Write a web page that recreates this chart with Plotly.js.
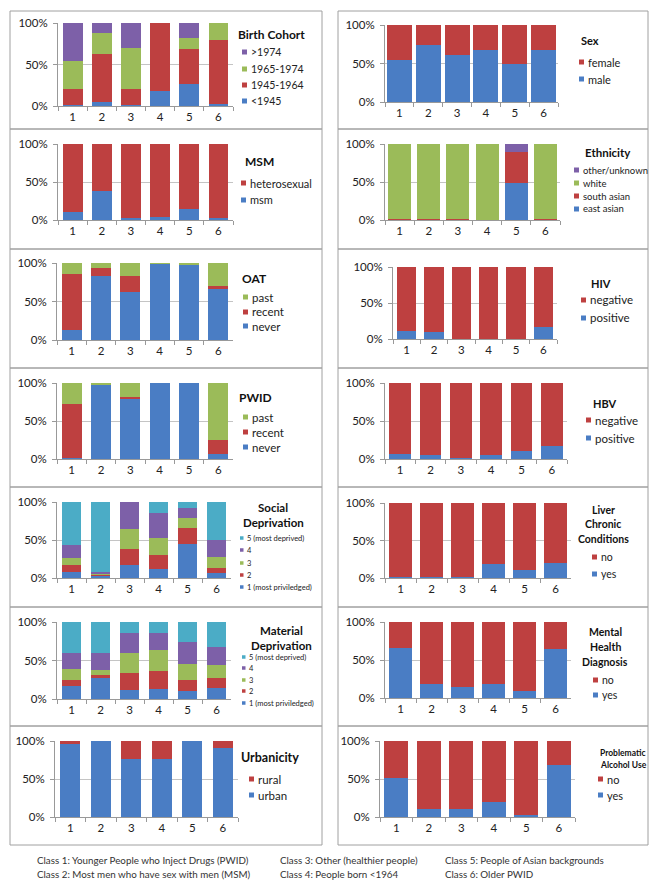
<!DOCTYPE html>
<html><head><meta charset="utf-8">
<script src="https://cdn.plot.ly/plotly-3.0.1.min.js"></script>
<style>html,body{margin:0;padding:0;background:#fff}#chart{width:654px;height:882px}</style>
</head><body><div id="chart"></div>
<script>
// ---------------- DATA ----------------
const classes = ['1', '2', '3', '4', '5', '6'];
const yTickValues = [0, 50, 100];
const yTickLabels = ['0%', '50%', '100%'];

const cohortLabels = ['<1945', '1945-1964', '1965-1974', '>1974'];
const cohortLt1945 = [1, 5, 1, 18, 27, 3];
const cohort1945to1964 = [20, 58, 19, 82, 42, 76];
const cohort1965to1974 = [33, 25, 50, 0, 13, 21];
const cohortGt1974 = [46, 12, 30, 0, 18, 0];

const msmLabels = ['msm', 'heterosexual'];
const msmMsm = [11, 38, 2, 3.5, 14, 3];
const msmHetero = [89, 62, 98, 96.5, 86, 97];

const sexLabels = ['male', 'female'];
const sexMale = [54, 74, 61, 67, 50, 68];
const sexFemale = [46, 26, 39, 33, 50, 32];

const ethLabels = ['east asian', 'south asian', 'white', 'other/unknown'];
const ethEastAsian = [0.5, 0.3, 0.5, 0.3, 49, 0.3];
const ethSouthAsian = [0.5, 0.5, 1, 0.3, 40, 0.5];
const ethWhite = [98.5, 98.7, 98, 99.2, 1, 99];
const ethOther = [0.5, 0.5, 0.5, 0.2, 10, 0.2];

const oatLabels = ['never', 'recent', 'past'];
const oatNever = [13, 83, 62, 99, 97, 66];
const oatRecent = [73, 10, 21, 0, 0, 4];
const oatPast = [14, 7, 17, 1, 3, 30];

const pwidLabels = ['never', 'recent', 'past'];
const pwidNever = [1, 98, 79, 100, 100, 7];
const pwidRecent = [71, 0, 3, 0, 0, 18];
const pwidPast = [28, 2, 18, 0, 0, 75];

const hivLabels = ['positive', 'negative'];
const hivPositive = [11, 10, 0.5, 0.5, 0.5, 17];
const hivNegative = [89, 90, 99.5, 99.5, 99.5, 83];

const hbvLabels = ['positive', 'negative'];
const hbvPositive = [7, 5, 1, 5, 10, 17];
const hbvNegative = [93, 95, 99, 95, 90, 83];

const depLabels = ['1 (most priviledged)', '2', '3', '4', '5 (most deprived)'];
const social1 = [8, 2, 17.5, 12, 45, 6];
const social2 = [9.5, 2, 20.5, 18, 21, 7];
const social3 = [8.5, 1, 27, 23, 13, 15];
const social4 = [17, 3, 35, 32, 13, 22];
const social5 = [57, 92, 0, 15, 8, 50];

const material1 = [16.5, 27, 12, 13, 11, 14];
const material2 = [8.5, 4, 22, 24, 14, 13];
const material3 = [14, 6.5, 26, 26, 20.5, 17];
const material4 = [21, 22.5, 26, 23, 28.5, 24];
const material5 = [40, 40, 14, 14, 26, 32];

const yesNoLabels = ['yes', 'no'];
const liverYes = [1, 1, 1, 18.5, 11, 20];
const liverNo = [99, 99, 99, 81.5, 89, 80];

const mentalYes = [66, 19, 15, 19, 9, 64];
const mentalNo = [34, 81, 85, 81, 91, 36];

const urbanLabels = ['urban', 'rural'];
const urbanUrban = [96, 100, 76, 76, 99.5, 91];
const urbanRural = [4, 0, 24, 24, 0.5, 9];

const alcoholYes = [51, 10, 10, 20, 2, 68];
const alcoholNo = [49, 90, 90, 80, 98, 32];

const footerLines = [
  ['Class 1: Younger People who Inject Drugs (PWID)', 'Class 3: Other (healthier people)', 'Class 5: People of Asian backgrounds'],
  ['Class 2: Most men who have sex with men (MSM)', 'Class 4: People born <1964', 'Class 6: Older PWID']
];

// ---------------- STYLE / LAYOUT ----------------
const W = 654, H = 882;
const BLUE = '#4A7DC4', RED = '#BE4040', GREEN = '#9BBB59', PURPLE = '#7D60A8', CYAN = '#4BACC6';
const FONT = 'Lato, "Open Sans", sans-serif';
const px = v => v / W;
const py = v => 1 - v / H;

const panels = [
  {title: ['Birth Cohort'], labels: cohortLabels, series: [cohortLt1945, cohort1945to1964, cohort1965to1974, cohortGt1974], colors: [BLUE, RED, GREEN, PURPLE],
   x: [58, 233], y: [23, 106], w: 0.68, tX: 271, tY: [35], tS: 12, iX: 242, iY: [52, 69, 85, 101], iS: 10.5},
  {title: ['MSM'], labels: msmLabels, series: [msmMsm, msmHetero], colors: [BLUE, RED],
   x: [58, 233], y: [144, 220], w: 0.68, tX: 259, tY: [161], tS: 12, iX: 241, iY: [183, 200], iS: 11},
  {title: ['OAT'], labels: oatLabels, series: [oatNever, oatRecent, oatPast], colors: [BLUE, RED, GREEN],
   x: [57, 233], y: [263, 340], w: 0.68, tX: 254, tY: [278], tS: 12, iX: 243, iY: [297, 312, 326], iS: 11.5},
  {title: ['PWID'], labels: pwidLabels, series: [pwidNever, pwidRecent, pwidPast], colors: [BLUE, RED, GREEN],
   x: [57, 233], y: [383, 459], w: 0.68, tX: 255, tY: [397], tS: 12, iX: 243, iY: [417, 432, 447], iS: 11.5},
  {title: ['Social', 'Deprivation'], labels: depLabels, series: [social1, social2, social3, social4, social5], colors: [BLUE, RED, GREEN, PURPLE, CYAN],
   x: [57, 231], y: [502, 578], w: 0.68, tX: 273, tY: [507, 522], tS: 11.5, iX: 240, iY: [538, 550, 563, 575, 587], iS: 7.5},
  {title: ['Material', 'Deprivation'], labels: depLabels, series: [material1, material2, material3, material4, material5], colors: [BLUE, RED, GREEN, PURPLE, CYAN],
   x: [57, 231], y: [622, 699], w: 0.68, tX: 281, tY: [630, 645], tS: 11.5, iX: 242, iY: [657, 668, 680, 691, 703], iS: 7.5},
  {title: ['Urbanicity'], labels: urbanLabels, series: [urbanUrban, urbanRural], colors: [BLUE, RED],
   x: [55, 238], y: [741, 817], w: 0.66, tX: 270, tY: [757], tS: 12.5, iX: 249, iY: [779, 795], iS: 11.5},
  {title: ['Sex'], labels: sexLabels, series: [sexMale, sexFemale], colors: [BLUE, RED],
   x: [385, 558], y: [25, 102], w: 0.87, tX: 590, tY: [40], tS: 11, iX: 579, iY: [62, 79], iS: 11},
  {title: ['Ethnicity'], labels: ethLabels, series: [ethEastAsian, ethSouthAsian, ethWhite, ethOther], colors: [BLUE, RED, GREEN, PURPLE],
   x: [385, 560], y: [144, 220], w: 0.79, tX: 608, tY: [153], tS: 11.5, iX: 574, iY: [170, 183, 196, 209], iS: 9.5},
  {title: ['HIV'], labels: hivLabels, series: [hivPositive, hivNegative], colors: [BLUE, RED],
   x: [393, 557], y: [267, 339], w: 0.70, tX: 601, tY: [283], tS: 11, iX: 581, iY: [300, 318], iS: 11.5},
  {title: ['HBV'], labels: hbvLabels, series: [hbvPositive, hbvNegative], colors: [BLUE, RED],
   x: [385, 567], y: [383, 459], w: 0.72, tX: 605, tY: [403], tS: 11, iX: 586, iY: [420, 438], iS: 11.5},
  {title: ['Liver', 'Chronic', 'Conditions'], labels: yesNoLabels, series: [liverYes, liverNo], colors: [BLUE, RED],
   x: [385, 571], y: [503, 578], w: 0.73, tX: 603, tY: [510, 524, 539], tS: 10.5, iX: 592, iY: [557, 574], iS: 10.5},
  {title: ['Mental', 'Health', 'Diagnosis'], labels: yesNoLabels, series: [mentalYes, mentalNo], colors: [BLUE, RED],
   x: [385, 571], y: [622, 698], w: 0.72, tX: 605, tY: [632, 647, 662], tS: 10.5, iX: 593, iY: [680, 695], iS: 10.5},
  {title: ['Problematic', 'Alcohol Use'], labels: yesNoLabels, series: [alcoholYes, alcoholNo], colors: [BLUE, RED],
   x: [380, 575], y: [741, 817], w: 0.74, tX: 623, tY: [753, 765], tS: 8.5, iX: 598, iY: [779, 795], iS: 11}
];

const rows = [[11, 129], [129, 249], [249, 368], [368, 487], [487, 607], [607, 726], [726, 845]];
const cols = [[10, 322], [338, 648]];

const traces = [];
const layout = {
  width: W, height: H, margin: {l: 0, r: 0, t: 0, b: 0},
  paper_bgcolor: '#fff', plot_bgcolor: 'rgba(0,0,0,0)',
  barmode: 'stack', showlegend: false,
  font: {family: FONT, color: '#222'},
  shapes: [], annotations: []
};

// panel boxes
cols.forEach(c => rows.forEach(r => {
  layout.shapes.push({type: 'rect', xref: 'paper', yref: 'paper', x0: px(c[0]), x1: px(c[1]), y0: py(r[1]), y1: py(r[0]),
    line: {color: '#a0a0a0', width: 1}, fillcolor: 'rgba(0,0,0,0)', layer: 'below'});
}));

panels.forEach((p, i) => {
  const n = i + 1;
  const xa = 'x' + (n === 1 ? '' : n), ya = 'y' + (n === 1 ? '' : n);
  const xk = 'xaxis' + (n === 1 ? '' : n), yk = 'yaxis' + (n === 1 ? '' : n);
  p.series.forEach((s, k) => {
    traces.push({type: 'bar', x: classes, y: s, name: p.labels[k], xaxis: xa, yaxis: ya,
      width: p.w, marker: {color: p.colors[k], line: {width: 0}}, hoverinfo: 'x+y+name'});
  });
  layout[xk] = {domain: [px(p.x[0]), px(p.x[1])], anchor: ya, type: 'category',
    tickson: 'boundaries', ticks: 'outside', ticklen: 4, tickcolor: '#999',
    showline: true, linecolor: '#999', linewidth: 1, showgrid: false, zeroline: false,
    tickfont: {size: 11.5, color: '#222', family: FONT}, fixedrange: true};
  layout[yk] = {domain: [py(p.y[1]), py(p.y[0])], anchor: xa, range: [0, 100],
    tickmode: 'array', tickvals: yTickValues, ticktext: yTickLabels, ticks: 'outside', ticklen: 4, tickcolor: '#999',
    showline: true, linecolor: '#999', linewidth: 1, showgrid: true, gridcolor: '#c4c4c4', zeroline: false,
    ticklabelstandoff: 3,
    tickfont: {size: 11.5, color: '#222', family: FONT}, fixedrange: true};
  // legend title
  p.title.forEach((t, j) => {
    layout.annotations.push({xref: 'paper', yref: 'paper', x: px(p.tX), y: py(p.tY[j]), xanchor: 'center', yanchor: 'middle',
      text: '<b>' + t + '</b>', showarrow: false, font: {size: p.tS, color: '#111', family: FONT}});
  });
  // legend items (top of stack first)
  const order = p.labels.map((l, k) => k).reverse();
  order.forEach((k, j) => {
    const yc = p.iY[j];
    const sz = p.iS < 9 ? 3.5 : 5;
    layout.shapes.push({type: 'rect', xref: 'paper', yref: 'paper', x0: px(p.iX), x1: px(p.iX + sz), y0: py(yc + sz / 2), y1: py(yc - sz / 2),
      line: {width: 0}, fillcolor: p.colors[k]});
    layout.annotations.push({xref: 'paper', yref: 'paper', x: px(p.iX + sz + 1.5), y: py(yc), xanchor: 'left', yanchor: 'middle',
      text: p.labels[k], showarrow: false, font: {size: p.iS, color: '#222', family: FONT}});
  });
});

// footer
const footerX = [35, 278, 443];
const footerY = [860, 874];
footerLines.forEach((line, r) => line.forEach((t, c) => {
  layout.annotations.push({xref: 'paper', yref: 'paper', x: px(footerX[c]), y: py(footerY[r]), xanchor: 'left', yanchor: 'middle',
    text: t.replace('<', '&lt;'), showarrow: false, font: {size: 9.8, color: '#333', family: FONT}});
}));

Plotly.newPlot('chart', traces, layout, {displayModeBar: false, staticPlot: true});
</script></body></html>
